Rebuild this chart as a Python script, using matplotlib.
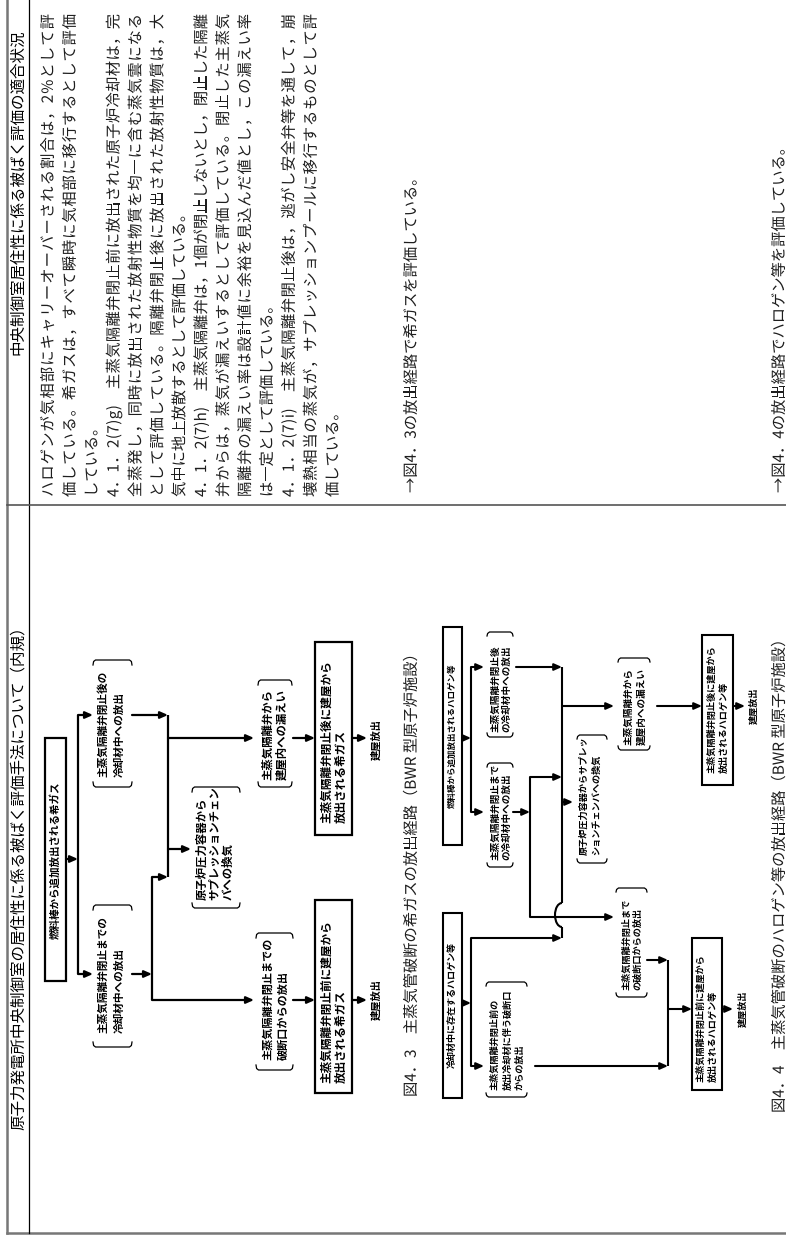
import matplotlib
matplotlib.use("Agg")
import matplotlib.pyplot as plt
from matplotlib.patches import Rectangle, Arc, PathPatch
from matplotlib.font_manager import findfont, FontProperties
from matplotlib.ft2font import FT2Font
from matplotlib.textpath import TextPath
from matplotlib.transforms import Affine2D

plt.rcParams['font.family'] = ['Noto Sans CJK JP', 'DejaVu Sans']

# ---- texts -------------------------------------------------------------
header_right = "中央制御室居住性に係る被ばく評価の適合状況"
header_left = "原子力発電所中央制御室の居住性に係る被ばく評価手法について（内規）"

body_lines = [
    "ハロゲンが気相部にキャリーオーバーされる割合は，2%として評",
    "価している。希ガスは，すべて瞬時に気相部に移行するとして評価",
    "している。",
    "4．1．2(7)g)　主蒸気隔離弁閉止前に放出された原子炉冷却材は，完",
    "全蒸発し，同時に放出された放射性物質を均一に含む蒸気雲になる",
    "として評価している。隔離弁閉止後に放出された放射性物質は，大",
    "気中に地上放散するとして評価している。",
    "4．1．2(7)h)　主蒸気隔離弁は，1個が閉止しないとし，閉止した隔離",
    "弁からは，蒸気が漏えいするとして評価している。閉止した主蒸気",
    "隔離弁の漏えい率は設計値に余裕を見込んだ値とし，この漏えい率",
    "は一定として評価している。",
    "4．1．2(7)i)　主蒸気隔離弁閉止後は，逃がし安全弁等を通して，崩",
    "壊熱相当の蒸気が，サプレッションプールに移行するものとして評",
    "価している。",
]
# lines that end a paragraph are not stretched to full length
para_end = [False, False, True, False, False, False, True,
            False, False, False, True, False, False, True]
ref_43 = "→図4．3の放出経路で希ガスを評価している。"
ref_44 = "→図4．4の放出経路でハロゲン等を評価している。"
caption_43 = "図4．3　主蒸気管破断の希ガスの放出経路（BWR 型原子炉施設）"
caption_44 = "図4．4　主蒸気管破断のハロゲン等の放出経路（BWR 型原子炉施設）"

# fig 4.3 labels
g_fuel = "燃料棒から追加放出される希ガス"
g_after = ["主蒸気隔離弁閉止後の", "冷却材中への放出"]
g_until = ["主蒸気隔離弁閉止までの", "冷却材中への放出"]
g_sp = ["原子炉圧力容器から", "サプレッションチェン", "バへの換気"]
g_leak = ["主蒸気隔離弁から", "建屋内への漏えい"]
g_break = ["主蒸気隔離弁閉止までの", "破断口からの放出"]
g_bld_after = ["主蒸気隔離弁閉止後に建屋から", "放出される希ガス"]
g_bld_before = ["主蒸気隔離弁閉止前に建屋から", "放出される希ガス"]
release = "建屋放出"

# fig 4.4 labels
h_fuel = "燃料棒から追加放出されるハロゲン等"
h_cool = "冷却材中に存在するハロゲン等"
h_after = ["主蒸気隔離弁閉止後", "の冷却材中への放出"]
h_until = ["主蒸気隔離弁閉止まで", "の冷却材中への放出"]
h_sp = ["原子炉圧力容器からサプレッ", "ションチェンバへの換気"]
h_leak = ["主蒸気隔離弁から", "建屋内への漏えい"]
h_break = ["主蒸気隔離弁閉止まで", "の破断口からの放出"]
h_before = ["主蒸気隔離弁閉止前の", "放出冷却材に伴う破断口", "からの放出"]
h_bld_after = ["主蒸気隔離弁閉止後に建屋から", "放出されるハロゲン等"]
h_bld_before = ["主蒸気隔離弁閉止前に建屋から", "放出されるハロゲン等"]

W, H = 786, 1238
fig = plt.figure(figsize=(W / 100, H / 100), dpi=100)
ax = fig.add_axes([0, 0, 1, 1])
ax.set_xlim(0, W)
ax.set_ylim(H, 0)
ax.axis('off')

FP = FontProperties(family=['Noto Sans CJK JP', 'DejaVu Sans'])
ft = FT2Font(findfont(FontProperties(family='Noto Sans CJK JP')))
BODY = 11
INK = '#1e1e1e'


def advance(c, size):
    ft.set_size(size, 100)
    return ft.load_char(ord(c)).linearHoriAdvance / 65536


def body_text(xc, y0, s, size=BODY, y1=None):
    # glyph outlines placed one by one, so full lines can be justified
    px = size * 100 / 72
    advs = [advance(c, size) for c in s]
    extra = 0 if y1 is None else (y0 - y1 - sum(advs)) / (len(s) - 1)
    xb = xc + 0.38 * px
    p = y0
    for c, a in zip(s, advs):
        if c.strip():
            tp = TextPath((0, 0), c, size=px, prop=FP)
            tr = Affine2D().from_values(0, -1, -1, 0, xb, p)
            ax.add_patch(PathPatch(tr.transform_path(tp), fc=INK, ec='none', lw=0))
        p -= a + extra


def vtext(x, y, s, size, weight='normal', va='bottom', color='k'):
    ax.text(x, y, s, rotation=90, ha='center', va=va, fontsize=size,
            fontweight=weight, color=color)


def line(xs, ys, lw=1.6):
    ax.plot(xs, ys, color='k', lw=lw, solid_capstyle='butt')


def arrow(x0, y, x1, lw=1.6):
    ax.annotate('', xy=(x1, y), xytext=(x0, y),
                arrowprops=dict(arrowstyle='-|>,head_length=0.45,head_width=0.2',
                                lw=lw, color='k', shrinkA=0, shrinkB=0))


def box(x0, x1, y0, y1, lw=1.6):
    ax.add_patch(Rectangle((x0, y0), x1 - x0, y1 - y0, fill=False,
                           ec='k', lw=lw))


def bracket(x0, x1, ytop, ybot, lw=0.9, c=5):
    # rotated parentheses around a label group
    for y, s in ((ybot, 1), (ytop, -1)):
        xs = [x0, x0 + 0.6, x0 + 2.5, x1 - 2.5, x1 - 0.6, x1]
        ys = [y - s * c, y - s * 1.5, y, y, y - s * 1.5, y - s * c]
        ax.plot(xs, ys, color='k', lw=lw)


def lines_block(xs, y, texts, size):
    for x, t in zip(xs, texts):
        vtext(x, y, t, size, weight='bold')


# ---- table frame ---------------------------------------------------------
ax.plot([7, 7], [0, 1233], color='#777777', lw=1.8)
ax.plot([7, W], [1233, 1233], color='#777777', lw=1.8)
ax.plot([29, 29], [0, 1233], color='k', lw=0.9)
ax.plot([7, W], [504.5, 504.5], color='#555555', lw=1.2)

vtext(18, 192, header_right, 11.2, va='center')
vtext(18, 874, header_left, 11.2, va='center')

# ---- right column text --------------------------------------------------
for i, (t, end) in enumerate(zip(body_lines, para_end)):
    body_text(47 + 21.9 * i, 497, t, y1=None if end else 14)
body_text(410, 493, ref_43)
body_text(778, 493, ref_44)

# ---- figure 4.3 ---------------------------------------------------------
box(45, 66, 738, 981)
vtext(55.5, 860, g_fuel, 7.6, weight='bold', va='center')
arrow(66, 859, 78)
line([78, 78], [715, 974])
arrow(78, 715, 93)
arrow(78, 974, 93)
bracket(93, 132, 660, 787)
lines_block([103, 120], 777, g_after, 7.7)
bracket(93, 132, 905, 1047)
lines_block([103, 120], 1033, g_until, 7.7)
arrow(132, 715, 168)
line([168, 168], [715, 877])
arrow(132, 974, 152)
line([152, 152], [877, 1000])
arrow(152, 877, 168)
arrow(168, 738, 254)
arrow(168, 849, 191)
arrow(152, 1000, 254)
bracket(192, 240, 787, 908)
lines_block([202, 215, 228], 900, g_sp, 8.2)
bracket(258, 292, 680, 787)
lines_block([268, 282], 780, g_leak, 8.2)
bracket(256, 293, 933, 1070)
lines_block([268, 283], 1060, g_break, 8.0)
arrow(293, 738, 315)
arrow(293, 1000, 315)
box(315, 352, 642, 835)
lines_block([326, 341], 823, g_bld_after, 8.4)
box(315, 352, 900, 1093)
lines_block([326, 341], 1083, g_bld_before, 8.4)
arrow(352, 738, 367)
arrow(352, 1000, 367)
vtext(376, 740, release, 7.4, weight='bold', va='center')
vtext(376, 1000, release, 7.4, weight='bold', va='center')
body_text(410, 1097, caption_43)

# ---- figure 4.4 ---------------------------------------------------------
lw2 = 1.5
box(443, 462, 627, 845, lw=lw2)
vtext(452.5, 736, h_fuel, 6.1, weight='bold', va='center')
arrow(462, 738, 471, lw=lw2)
line([471, 471], [667, 812], lw=lw2)
arrow(471, 667, 484, lw=lw2)
arrow(471, 812, 484, lw=lw2)
bracket(487, 513, 632, 737, c=4)
lines_block([495, 506], 732, h_after, 6.9)
bracket(487, 513, 763, 867, c=4)
lines_block([495, 506], 860, h_until, 6.9)
arrow(516, 667, 562, lw=lw2)
arrow(513, 812, 530, lw=lw2)
line([530, 530], [777, 917], lw=lw2)
arrow(530, 777, 562, lw=lw2)
line([562, 562], [667, 903], lw=lw2)
ax.add_patch(Arc((562, 915), 14, 24, theta1=90, theta2=270, color='k', lw=lw2))
line([562, 562], [927, 938], lw=lw2)
arrow(562, 706, 614, lw=lw2)
arrow(562, 802, 573, lw=lw2)
bracket(577, 607, 735, 863, c=4)
lines_block([584, 597], 855, h_sp, 6.6)
arrow(530, 917, 614, lw=lw2)
bracket(618, 650, 658, 750, c=4)
lines_block([628, 641], 745, h_leak, 6.9)
bracket(616, 647, 888, 997, c=4)
lines_block([627, 638], 990, h_break, 6.6)
arrow(657, 706, 702, lw=lw2)
box(702, 733, 635, 785, lw=lw2)
lines_block([712, 724], 773, h_bld_after, 6.6)
arrow(733, 706, 745, lw=lw2)
vtext(754, 706, release, 6.6, weight='bold', va='center')

box(443, 462, 913, 1098, lw=lw2)
vtext(452.5, 1005, h_cool, 6.5, weight='bold', va='center')
arrow(462, 1003, 471, lw=lw2)
line([471, 471], [938, 1066], lw=lw2)
arrow(471, 938, 562, lw=lw2)
arrow(471, 1066, 484, lw=lw2)
bracket(486, 527, 982, 1097, c=4)
lines_block([495, 508, 520], 1090, h_before, 6.6)
arrow(535, 1066, 668, lw=lw2)
arrow(647, 960, 668, lw=lw2)
line([668, 668], [960, 1066], lw=lw2)
arrow(668, 1009, 692, lw=lw2)
box(692, 722, 938, 1090, lw=lw2)
lines_block([701, 713], 1082, h_bld_before, 6.6)
arrow(722, 1009, 733, lw=lw2)
vtext(743, 1009, release, 6.6, weight='bold', va='center')
body_text(778, 1113, caption_44)

fig.savefig('out.png', dpi=100)
